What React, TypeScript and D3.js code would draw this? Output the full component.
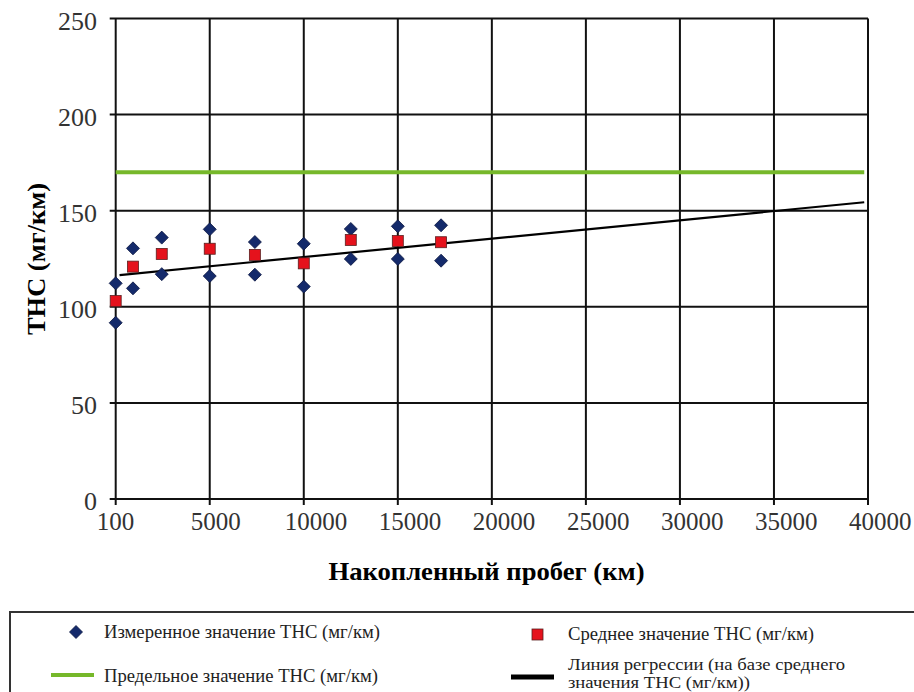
import React from 'react';
import * as d3 from 'd3';

const xTicks = [100, 5000, 10000, 15000, 20000, 25000, 30000, 35000, 40000];
const yTicks = [0, 50, 100, 150, 200, 250];
const mileage = [100, 1000, 2500, 5000, 7400, 10000, 12500, 15000, 17300];
const measuredHigh = [112.2, 130.4, 136, 140.3, 133.7, 132.8, 140.5, 141.9, 142.4];
const measuredLow = [91.7, 109.6, 117, 116, 116.7, 110.5, 124.9, 124.9, 124];
const meanValues = [103, 120.9, 127.5, 130.2, 127, 122.6, 134.8, 134.2, 133.6];
const limitValue = 170;
const limitRange = [100, 39800];
const regressionX = [300, 39800];
const regressionY = [116.5, 154.4];

const legendLabels = {
  measured: 'Измеренное значение ТНС (мг/км)',
  mean: 'Среднее значение ТНС (мг/км)',
  limit: 'Предельное значение ТНС (мг/км)',
  regression1: 'Линия регрессии (на базе среднего',
  regression2: 'значения ТНС (мг/км))',
};

const W = 914;
const H = 692;
const left = 115.7;
const right = 868;
const top = 18.5;
const bottom = 499;
const FONT = "'Liberation Serif'";

export default function App() {
  const x = d3
    .scaleLinear()
    .domain(xTicks)
    .range(xTicks.map((_, i) => left + ((right - left) * i) / (xTicks.length - 1)));
  const y = d3.scaleLinear().domain([0, 250]).range([bottom, top]);

  const measured = mileage.flatMap((m, i) => [
    { m, v: measuredHigh[i] },
    { m, v: measuredLow[i] },
  ]);
  const mean = mileage.map((m, i) => ({ m, v: meanValues[i] }));
  const line = d3
    .line<[number, number]>()
    .x((d) => x(d[0]))
    .y((d) => y(d[1]));
  const regPts: [number, number][] = regressionX.map((v, i) => [v, regressionY[i]]);
  const diamond = (cx: number, cy: number, r: number) =>
    `M${cx},${cy - r}L${cx + r},${cy}L${cx},${cy + r}L${cx - r},${cy}Z`;
  const tf = { fontFamily: FONT };

  return (
    <svg width={W} height={H} style={{ position: 'absolute', left: 0, top: 0, background: '#fff' }}>
      <rect x={0} y={0} width={W} height={H} fill="#fff" />
      {yTicks.map((t) => (
        <line key={'gy' + t} x1={left - 6} x2={right} y1={y(t)} y2={y(t)} stroke="#111" strokeWidth={2} />
      ))}
      {xTicks.map((t) => (
        <line key={'gx' + t} x1={x(t)} x2={x(t)} y1={top} y2={bottom + 6} stroke="#111" strokeWidth={2} />
      ))}
      {yTicks.map((t) => (
        <text key={'ty' + t} x={97} y={y(t) + 11} textAnchor="end" fontSize={26} fill="#333" style={tf}>
          {t}
        </text>
      ))}
      {xTicks.map((t) => (
        <text key={'tx' + t} x={x(t) - 19} y={530} textAnchor="start" fontSize={25} fill="#333" style={tf}>
          {t}
        </text>
      ))}
      <line
        x1={x(limitRange[0])}
        x2={x(limitRange[1])}
        y1={y(limitValue)}
        y2={y(limitValue)}
        stroke="#76b82a"
        strokeWidth={4}
      />
      <path d={line(regPts) || ''} stroke="#000" strokeWidth={2.2} fill="none" />
      {measured.map((d, i) => (
        <path key={'d' + i} d={diamond(x(d.m), y(d.v), 6.5)} fill="#142a6b" stroke="#0a1540" strokeWidth={0.8} />
      ))}
      {mean.map((d, i) => (
        <rect
          key={'s' + i}
          x={x(d.m) - 5.5}
          y={y(d.v) - 5.5}
          width={11}
          height={11}
          fill="#e5121c"
          stroke="#5a2020"
          strokeWidth={0.8}
        />
      ))}
      <text
        x={486.5}
        y={580}
        textAnchor="middle"
        fontSize={26}
        fontWeight="bold"
        fill="#000"
        textLength={316}
        lengthAdjust="spacingAndGlyphs"
        style={tf}
      >
        Накопленный пробег (км)
      </text>
      <text
        transform={`translate(45,259) rotate(-90)`}
        textAnchor="middle"
        fontSize={26}
        fontWeight="bold"
        fill="#000"
        textLength={152}
        lengthAdjust="spacingAndGlyphs"
        style={tf}
      >
        ТНС (мг/км)
      </text>
      <rect x={10} y={612} width={920} height={100} fill="none" stroke="#333" strokeWidth={2} />
      <path d={diamond(76, 632, 6.5)} fill="#142a6b" stroke="#0a1540" strokeWidth={0.8} />
      <text x={104} y={638} fontSize={19} fill="#222" textLength={276} lengthAdjust="spacingAndGlyphs" style={tf}>
        {legendLabels.measured}
      </text>
      <line x1={51} x2={94} y1={675} y2={675} stroke="#76b82a" strokeWidth={4} />
      <text x={104} y={682} fontSize={19} fill="#222" textLength={274} lengthAdjust="spacingAndGlyphs" style={tf}>
        {legendLabels.limit}
      </text>
      <rect x={532} y={629} width={11} height={11} fill="#e5121c" stroke="#5a2020" strokeWidth={0.8} />
      <text x={568} y={640} fontSize={19} fill="#222" textLength={246} lengthAdjust="spacingAndGlyphs" style={tf}>
        {legendLabels.mean}
      </text>
      <line x1={511} x2={554} y1={677} y2={677} stroke="#000" strokeWidth={5} />
      <text x={568} y={670} fontSize={17} fill="#222" textLength={277} lengthAdjust="spacingAndGlyphs" style={tf}>
        {legendLabels.regression1}
      </text>
      <text x={568} y={688} fontSize={17} fill="#222" textLength={182} lengthAdjust="spacingAndGlyphs" style={tf}>
        {legendLabels.regression2}
      </text>
    </svg>
  );
}
